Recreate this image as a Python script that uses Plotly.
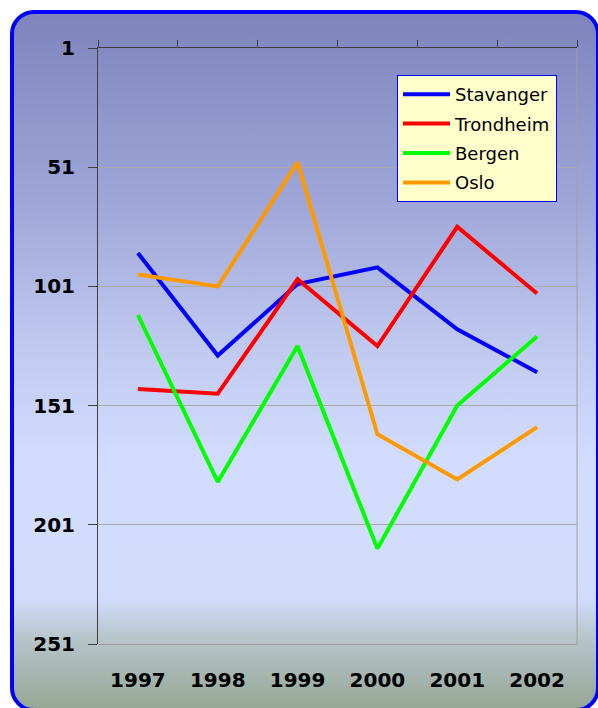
import base64
import plotly.graph_objects as go

years = ["1997", "1998", "1999", "2000", "2001", "2002"]
stavanger = [87, 130, 100, 93, 119, 137]
trondheim = [144, 146, 98, 126, 76, 104]
bergen = [113, 183, 126, 211, 151, 122]
oslo = [96, 101, 49, 163, 182, 160]
y_ticks = [1, 51, 101, 151, 201, 251]

series = [
    ("Stavanger", stavanger, "#0000FF"),
    ("Trondheim", trondheim, "#FF0000"),
    ("Bergen", bergen, "#00FF00"),
    ("Oslo", oslo, "#FF9900"),
]

W, H = 598, 708
L, R, T, B = 98, 21, 48, 64
pw, ph = W - L - R, H - T - B

# background frame (gradient with rounded blue border)
fx0, fy0, fx1, fy1 = 10, 10, 600, 712
fw, fh = fx1 - fx0, fy1 - fy0
svg = f'''<svg xmlns="http://www.w3.org/2000/svg" width="{fw}" height="{fh}" viewBox="0 0 {fw} {fh}" preserveAspectRatio="none">
<defs><linearGradient id="g" x1="0" y1="0" x2="0" y2="1">
<stop offset="0" stop-color="#7E84BC"/>
<stop offset="0.27" stop-color="#9EA6D8"/>
<stop offset="0.48" stop-color="#C0CAF0"/>
<stop offset="0.64" stop-color="#D2DCFE"/>
<stop offset="0.84" stop-color="#D2DCFA"/>
<stop offset="0.90" stop-color="#B6C4CA"/>
<stop offset="1" stop-color="#96A694"/>
</linearGradient></defs>
<rect x="2" y="2" width="{fw-4}" height="{fh-4}" rx="22" ry="22" fill="url(#g)" stroke="#0000FF" stroke-width="4"/>
</svg>'''
src = "data:image/svg+xml;base64," + base64.b64encode(svg.encode()).decode()

fig = go.Figure()
# invisible helper trace for the top category axis
fig.add_trace(go.Scatter(x=years, y=stavanger, xaxis="x2", yaxis="y", mode="lines",
                         line=dict(color="rgba(0,0,0,0)"), showlegend=False, hoverinfo="skip"))
for name, vals, col in series:
    fig.add_trace(go.Scatter(x=years, y=vals, name=name, mode="lines", legendgroup=name,
                             line=dict(color=col, width=4)))

font = "DejaVu Sans, Verdana, Arial, sans-serif"
fig.update_layout(
    width=W, height=H,
    margin=dict(l=L, r=R, t=T, b=B, autoexpand=False),
    paper_bgcolor="white",
    plot_bgcolor="#FFFFCC",
    font=dict(family=font, color="black"),
    showlegend=True,
    legend=dict(
        x=(397 - L) / pw, y=1 - (75 - T) / ph, xanchor="left", yanchor="top",
        bgcolor="#FFFFCC", bordercolor="#0000FF", borderwidth=1,
        font=dict(family=font, size=18, color="black"),
        tracegroupgap=3, itemwidth=47,
    ),
    xaxis=dict(
        type="category", range=[-0.5, 5.5], showgrid=False, ticks="", showline=True,
        linecolor="#A0A0A0", automargin=False,
        tickfont=dict(family=font, size=20, color="black", weight="bold"),
        ticklabelstandoff=18,
    ),
    xaxis2=dict(
        type="category", overlaying="x", side="top", matches="x", anchor="y",
        tickson="boundaries", ticks="outside", ticklen=7, tickcolor="#404040",
        showline=True, linecolor="#404040", showticklabels=False, showgrid=False,
    ),
    yaxis=dict(
        range=[251, 1], tickvals=y_ticks, ticktext=[str(v) for v in y_ticks],
        ticks="outside", ticklen=9, tickcolor="#404040", automargin=False,
        showline=True, linecolor="#404040",
        showgrid=True, gridcolor="#A8A8A8", gridwidth=1, zeroline=False,
        tickfont=dict(family=font, size=20, color="black", weight="bold"),
        ticklabelstandoff=9,
    ),
    shapes=[dict(type="line", xref="paper", yref="paper", x0=1, x1=1, y0=0, y1=1,
                 line=dict(color="#A0A0A0", width=1))],
    images=[dict(source=src, xref="paper", yref="paper",
                 x=(fx0 - L) / pw, y=1 + (T - fy0) / ph,
                 sizex=fw / pw, sizey=fh / ph, sizing="stretch",
                 xanchor="left", yanchor="top", layer="below")],
)

fig.write_html("out.html", config={"displayModeBar": False},
               post_script="document.body.style.margin='0';")
